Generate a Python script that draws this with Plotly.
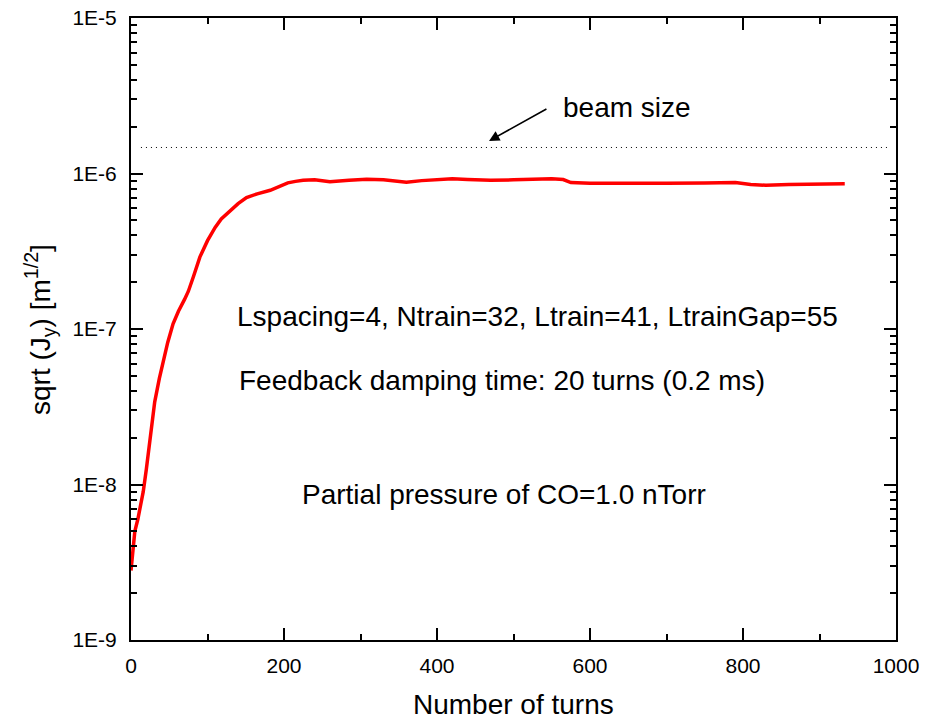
import plotly.graph_objects as go
import math

# ---- data ----
turns = [0, 2, 5, 9, 12, 16, 20, 25, 31, 37, 42, 48, 55, 62, 70, 75, 82, 90, 100, 110,
         118, 128, 140, 151, 165, 182, 195, 205, 215, 225, 240, 260, 285, 308, 330, 360,
         380, 400, 420, 440, 470, 500, 530, 550, 565, 575, 600, 650, 700, 750, 790, 810,
         830, 860, 900, 933]
sqrt_jy = [2.8e-9, 3.6e-9, 5.0e-9, 6.0e-9, 7.0e-9, 9.0e-9, 1.25e-8, 2.0e-8, 3.4e-8, 4.8e-8,
           6.3e-8, 8.2e-8, 1.08e-7, 1.3e-7, 1.55e-7, 1.75e-7, 2.2e-7, 2.9e-7, 3.7e-7, 4.5e-7,
           5.1e-7, 5.7e-7, 6.4e-7, 7.0e-7, 7.4e-7, 7.8e-7, 8.3e-7, 8.7e-7, 8.9e-7, 9.05e-7,
           9.1e-7, 8.85e-7, 9.05e-7, 9.2e-7, 9.1e-7, 8.8e-7, 9.0e-7, 9.1e-7, 9.25e-7, 9.15e-7,
           9.05e-7, 9.1e-7, 9.15e-7, 9.25e-7, 9.15e-7, 8.75e-7, 8.65e-7, 8.6e-7, 8.65e-7, 8.7e-7,
           8.75e-7, 8.5e-7, 8.4e-7, 8.5e-7, 8.6e-7, 8.6e-7]

beam_x = [13, 990]
beam_y = [1.47e-6, 1.47e-6]

arrow_tail = (545, 2.63e-6)
arrow_tip = (468, 1.62e-6)

y_tickvals = [1e-9, 1e-8, 1e-7, 1e-6, 1e-5]
y_ticktext = ["1E-9", "1E-8", "1E-7", "1E-6", "1E-5"]
y_minor = [m * 10.0 ** e for e in range(-9, -5) for m in range(2, 10)]

x_tickvals = [0, 200, 400, 600, 800, 1000]
x_minor = [100, 300, 500, 700, 900]

FONT = "Liberation Sans, Arial, sans-serif"

fig = go.Figure()
fig.add_trace(go.Scatter(x=beam_x, y=beam_y, mode="lines",
                         line=dict(color="black", width=1, dash="1px,4px"),
                         showlegend=False, hoverinfo="skip"))
fig.add_trace(go.Scatter(x=turns, y=sqrt_jy, mode="lines",
                         line=dict(color="#ff0000", width=3.5),
                         showlegend=False))

axis_common = dict(showline=True, linecolor="black", linewidth=2, mirror="ticks",
                   ticks="inside", tickcolor="black", tickwidth=2, ticklen=12,
                   showgrid=False, zeroline=False, automargin=False,
                   tickfont=dict(family=FONT, size=21, color="black"))

fig.update_xaxes(range=[0, 1000], tickvals=x_tickvals,
                 minor=dict(tickvals=x_minor, ticks="inside", ticklen=6, tickwidth=2,
                            tickcolor="black", showgrid=False),
                 ticklabelstandoff=6, **axis_common)
fig.update_yaxes(type="log", range=[-9, -5], tickvals=y_tickvals, ticktext=y_ticktext,
                 minor=dict(tickvals=y_minor, ticks="inside", ticklen=6, tickwidth=2,
                            tickcolor="black", showgrid=False),
                 ticklabelstandoff=8, **axis_common)

L, R, T, B = 131, 36, 18, 80
W, H = 932, 720
pw, ph = W - L - R, H - T - B


def py(y):
    return (H - B - y) / ph


def px(x):
    return (x - L) / pw


txt = dict(family=FONT, size=28, color="black")
annos = [
    dict(text="Lspacing=4, Ntrain=32, Ltrain=41, LtrainGap=55", x=px(235), y=py(316)),
    dict(text="Feedback damping time: 20 turns (0.2 ms)", x=px(237), y=py(380)),
    dict(text="Partial pressure of CO=1.0 nTorr", x=px(300), y=py(494)),
    dict(text="beam size", x=px(561), y=py(107)),
]
for a in annos:
    fig.add_annotation(text=a["text"], x=a["x"], y=a["y"], xref="paper", yref="paper",
                       xanchor="left", yanchor="middle", showarrow=False, font=txt)

fig.add_annotation(x=arrow_tip[0], y=math.log10(arrow_tip[1]),
                   ax=arrow_tail[0], ay=math.log10(arrow_tail[1]),
                   xref="x", yref="y", axref="x", ayref="y", text="",
                   showarrow=True, arrowhead=2, arrowsize=1.3, arrowwidth=1.6,
                   arrowcolor="black")

fig.add_annotation(text="Number of turns", x=0.5, y=py(704), xref="paper", yref="paper",
                   xanchor="center", yanchor="middle", showarrow=False, font=txt)
fig.add_annotation(text="sqrt (J<sub>y</sub>) [m<sup>1/2</sup>]", x=px(40), y=py(330),
                   xref="paper", yref="paper", xanchor="center", yanchor="middle",
                   textangle=-90, showarrow=False, font=txt)

fig.update_layout(width=W, height=H, margin=dict(l=L, r=R, t=T, b=B, autoexpand=False),
                  paper_bgcolor="white", plot_bgcolor="white", showlegend=False)

fig.write_html("out.html")
